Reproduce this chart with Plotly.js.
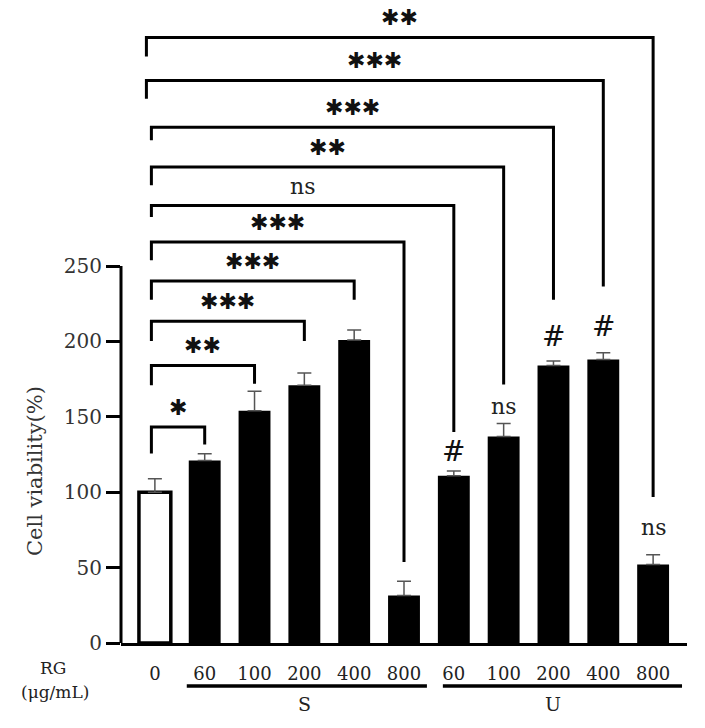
<!DOCTYPE html>
<html>
<head>
<meta charset="utf-8">
<script src="https://cdn.plot.ly/plotly-3.0.1.min.js"></script>
<style>
  body { margin: 0; background: #fff; }
  #plot { width: 705px; height: 728px; }
</style>
</head>
<body>
<div id="plot"></div>
<script>
// Doses and treatment groups (first bar is the untreated control)
var doses = ["0", "60", "100", "200", "400", "800", "60", "100", "200", "400", "800"];
var groups = ["", "S", "S", "S", "S", "S", "U", "U", "U", "U", "U"];

// Cell viability (%) and upper error
var viability = [100, 121, 154, 171, 201, 31.5, 111, 137, 184, 188, 52];
var errUp = [9, 4.5, 13, 8, 6.5, 9.5, 3, 8.5, 3, 4.5, 6.5];

// Comparisons against the control bar
var compareTo = [1, 2, 3, 4, 5, 6, 7, 8, 9, 10];
var compareSig = ["*", "**", "***", "***", "***", "ns", "**", "***", "***", "**"];

// Marks written over the U bars
var markIdx = [6, 7, 8, 9, 10];
var markText = ["#", "ns", "#", "#", "ns"];

var xs = doses.map((d, i) => i);
var serif = "DejaVu Serif, Liberation Serif, serif";

// Bars: white control, black treatments
var trace1 = {
    x: xs,
    y: viability,
    type: "bar",
    width: 0.64,
    marker: {
        color: xs.map(i => i === 0 ? "#ffffff" : "#000000"),
        line: { color: "#000", width: xs.map(i => i === 0 ? 3.5 : 0) }
    },
    error_y: {
        type: "data",
        symmetric: false,
        array: errUp,
        arrayminus: errUp.map(() => 0),
        color: "#555",
        thickness: 1.5,
        width: 7
    },
    hoverinfo: "none"
};

// Bracket heights (in % units) - placement only
var bracketLevel = [143.2, 184, 213.3, 240, 265.9, 290.2, 315.6, 342, 373.1, 401.5];
var leftDrop = [125.6, 170.9, 200.3, 227.7, 253.8, 282.5, 303.5, 333.4, 361, 389];
var rightDrop = [131.6, 172, 200.3, 227.7, 53.7, 139.9, 171.4, 227.7, 236.5, 96.8];
var markLevel = [126.7, 157, 203.4, 210, 76.7];

var shapes = [];
var annotations = [];

// y axis line only up to 250
shapes.push({
    type: "line", xref: "paper", yref: "y",
    x0: 0, x1: 0, y0: 0, y1: 250,
    line: { color: "#000", width: 3 }
});

compareTo.forEach(function(t, k) {
    var x0 = k >= 8 ? -0.17 : -0.07;
    shapes.push({
        type: "path", xref: "x", yref: "y",
        path: "M" + x0 + "," + leftDrop[k] + " L" + x0 + "," + bracketLevel[k] +
              " L" + t + "," + bracketLevel[k] + " L" + t + "," + rightDrop[k],
        line: { color: "#000", width: 3 }
    });
    var sig = compareSig[k];
    var isStar = sig.indexOf("*") >= 0;
    annotations.push({
        xref: "x", yref: "y",
        x: (x0 + t) / 2, y: bracketLevel[k],
        xanchor: "center", yanchor: "middle", yshift: isStar ? 20 : 19,
        text: isStar ? sig.split("").map(() => "✱").join("") : sig,
        showarrow: false,
        font: isStar ? { family: "DejaVu Sans", size: 22, color: "#111" }
                     : { family: serif, size: 22, color: "#222" }
    });
});

markIdx.forEach(function(i, k) {
    var hash = markText[k] === "#";
    annotations.push({
        xref: "x", yref: "y",
        x: i, y: markLevel[k], xanchor: "center", yanchor: "middle",
        text: hash ? "<i>#</i>" : markText[k],
        showarrow: false,
        font: hash ? { family: "DejaVu Serif", size: 28, color: "#111" }
                   : { family: serif, size: 22, color: "#222" }
    });
});

// Group underlines and labels
var groupNames = ["S", "U"];
var groupPad = [[0.36, 0.46], [0.22, 0.58]];
groupNames.forEach(function(g, k) {
    var idx = xs.filter(i => groups[i] === g);
    var first = idx[0], last = idx[idx.length - 1];
    shapes.push({
        type: "line", xref: "x", yref: "paper",
        x0: first - groupPad[k][0], x1: last + groupPad[k][1],
        y0: -0.068, y1: -0.068,
        line: { color: "#000", width: 3.5 }
    });
    annotations.push({
        xref: "x", yref: "paper",
        x: (first + last) / 2, y: -0.096, xanchor: "center", yanchor: "middle",
        text: g, showarrow: false,
        font: { family: serif, size: 19, color: "#222" }
    });
});

// RG (µg/mL) row label
annotations.push({
    xref: "paper", yref: "paper", x: -0.12, y: -0.040,
    xanchor: "center", yanchor: "middle",
    text: "RG", showarrow: false,
    font: { family: serif, size: 17, color: "#222" }
});
annotations.push({
    xref: "paper", yref: "paper", x: -0.117, y: -0.078,
    xanchor: "center", yanchor: "middle",
    text: "(μg/mL)", showarrow: false,
    font: { family: serif, size: 17, color: "#222" }
});

// y title centred on the 0-250 part of the axis
annotations.push({
    xref: "paper", yref: "y", x: -0.152, y: 114, textangle: -90,
    xanchor: "center", yanchor: "middle",
    text: "Cell viability(%)", showarrow: false,
    font: { family: serif, size: 21, color: "#333" }
});

var layout = {
    width: 705,
    height: 728,
    margin: { l: 121, r: 18, t: 10, b: 85 },
    paper_bgcolor: "#fff",
    plot_bgcolor: "#fff",
    showlegend: false,
    xaxis: {
        range: [-0.68, 10.68],
        tickvals: xs,
        ticktext: doses,
        ticks: "outside",
        ticklen: 12,
        tickcolor: "rgba(0,0,0,0)",
        showline: true,
        linecolor: "#000",
        linewidth: 3,
        showgrid: false,
        zeroline: false,
        tickfont: { family: serif, size: 18, color: "#222" }
    },
    yaxis: {
        range: [0, 419.8],
        tickvals: [0, 50, 100, 150, 200, 250],
        ticks: "outside",
        ticklen: 14,
        tickwidth: 3,
        tickcolor: "#000",
        showline: false,
        showgrid: false,
        zeroline: false,
        tickfont: { family: serif, size: 20, color: "#333" }
    },
    shapes: shapes,
    annotations: annotations
};

Plotly.newPlot("plot", [trace1], layout, { displayModeBar: false, staticPlot: true });
</script>
</body>
</html>
